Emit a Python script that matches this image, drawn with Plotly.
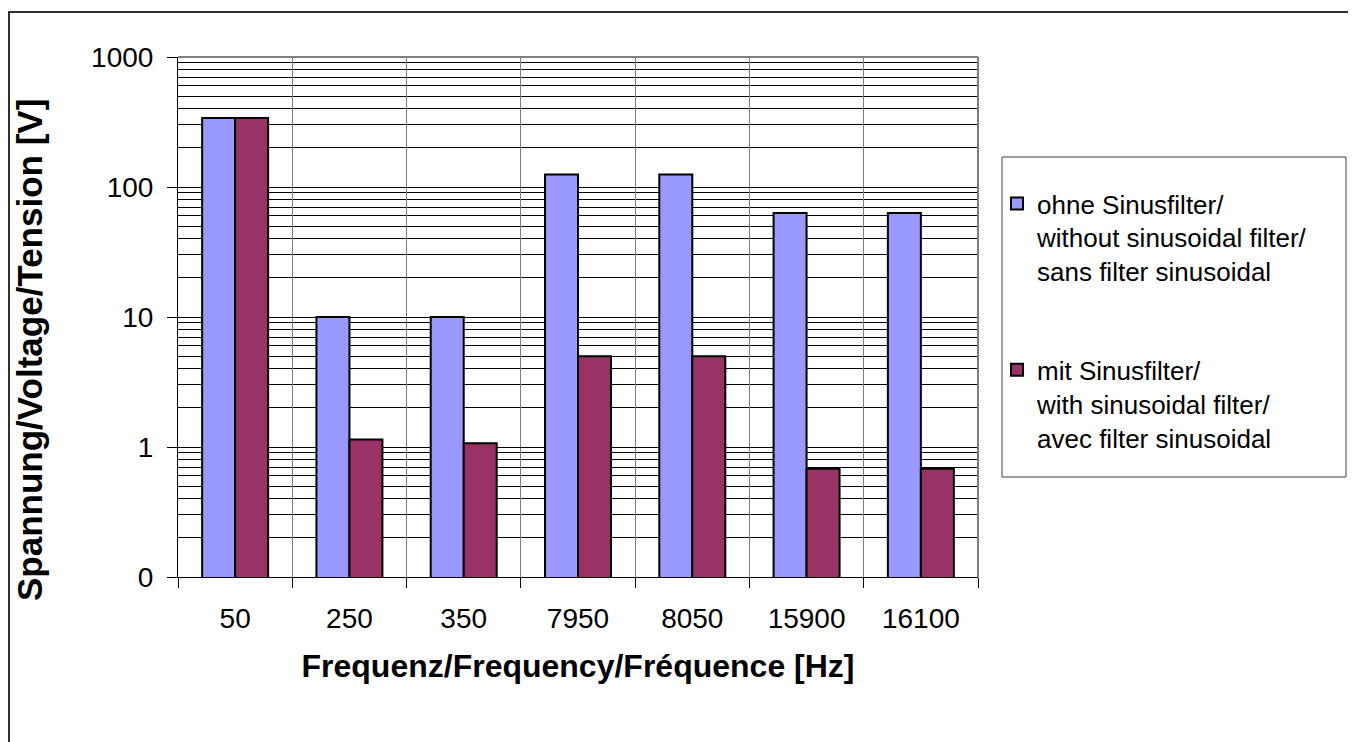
import plotly.graph_objects as go

# ---- data ----
categories = ["50", "250", "350", "7950", "8050", "15900", "16100"]
without_filter = [340, 10, 10, 125, 125, 63, 63]
with_filter = [340, 1.14, 1.07, 5.0, 5.0, 0.68, 0.68]
series_names = [
    "ohne Sinusfilter/<br>without sinusoidal filter/<br>sans filter sinusoidal",
    "mit Sinusfilter/<br>with sinusoidal filter/<br>avec filter sinusoidal",
]
y_tick_vals = [0.1, 1, 10, 100, 1000]
y_tick_text = ["0", "1", "10", "100", "1000"]
x_title = "Frequenz/Frequency/Fréquence [Hz]"
y_title = "Spannung/Voltage/Tension [V]"

# ---- layout geometry (pixels, page coordinates) ----
OFF = 8                      # default body margin of the html page
W, H = 1356 - OFF, 742 - OFF
PL, PR, PT, PB = 178, 978, 57, 577
FONT = "Liberation Sans, Arial, sans-serif"


def px_x(px):
    return (px - PL) / (PR - PL)


def px_y(py):
    return (PB - py) / (PB - PT)


minor_vals = [m * 10 ** e for e in range(-1, 3) for m in range(2, 10)]

fig = go.Figure()
fig.add_trace(go.Bar(
    x=categories, y=without_filter, name=series_names[0],
    marker=dict(color="#9999FF", line=dict(color="black", width=2)),
    legendgroup="a",
))
fig.add_trace(go.Bar(
    x=categories, y=with_filter, name=series_names[1],
    marker=dict(color="#993366", line=dict(color="black", width=2)),
    legendgroup="b",
))

fig.update_layout(
    width=W, height=H,
    margin=dict(l=PL - OFF, r=W - (PR - OFF), t=PT - OFF, b=H - (PB - OFF), pad=0),
    paper_bgcolor="white", plot_bgcolor="white",
    font=dict(family=FONT, color="black", size=28),
    barmode="group", bargap=0.4226, bargroupgap=0,
    showlegend=True,
    legend=dict(
        x=px_x(997), y=px_y(180), xanchor="left", yanchor="top",
        bgcolor="rgba(0,0,0,0)", borderwidth=0,
        font=dict(family=FONT, size=26, color="black"),
        tracegroupgap=62, valign="top",
        itemsizing="constant", itemwidth=30,
    ),
    xaxis=dict(
        type="category", tickson="boundaries",
        showgrid=True, gridcolor="#808080", gridwidth=1,
        showline=True, linecolor="black", linewidth=1,
        ticks="outside", ticklen=10, tickcolor="black",
        tickfont=dict(size=28), ticklabelstandoff=16,
        title=dict(text=f"<b>{x_title}</b>", font=dict(size=32), standoff=22),
        zeroline=False,
    ),
    yaxis=dict(
        type="log", range=[-1, 3],
        tickmode="array", tickvals=y_tick_vals, ticktext=y_tick_text,
        showgrid=True, gridcolor="black", gridwidth=1,
        showline=True, linecolor="black", linewidth=1,
        ticks="outside", ticklen=10, tickcolor="black",
        tickfont=dict(size=28), ticklabelstandoff=8,
        minor=dict(tickmode="array", tickvals=minor_vals, showgrid=True,
                   gridcolor="black", gridwidth=1, ticks=""),
        zeroline=False,
    ),
    annotations=[
        dict(text=f"<b>{y_title}</b>", textangle=-90, showarrow=False,
             xref="paper", yref="paper", x=px_x(29), y=px_y(350),
             xanchor="center", yanchor="middle",
             font=dict(family=FONT, size=35, color="black")),
    ],
    shapes=[
        # plot area top / right border
        dict(type="line", xref="paper", yref="paper", x0=0, x1=1, y0=1, y1=1,
             line=dict(color="#808080", width=2)),
        dict(type="line", xref="paper", yref="paper", x0=1, x1=1, y0=0, y1=1,
             line=dict(color="#808080", width=2)),
        # legend frame
        dict(type="rect", xref="paper", yref="paper",
             x0=px_x(1002), x1=px_x(1346), y0=px_y(477), y1=px_y(157),
             line=dict(color="#404040", width=1), fillcolor="rgba(0,0,0,0)"),
        # outer chart frame
        dict(type="rect", xref="paper", yref="paper",
             x0=px_x(9), x1=px_x(1500), y0=px_y(900), y1=px_y(12),
             line=dict(color="#303030", width=2), fillcolor="rgba(0,0,0,0)"),
    ],
)

fig.write_html("out.html")
